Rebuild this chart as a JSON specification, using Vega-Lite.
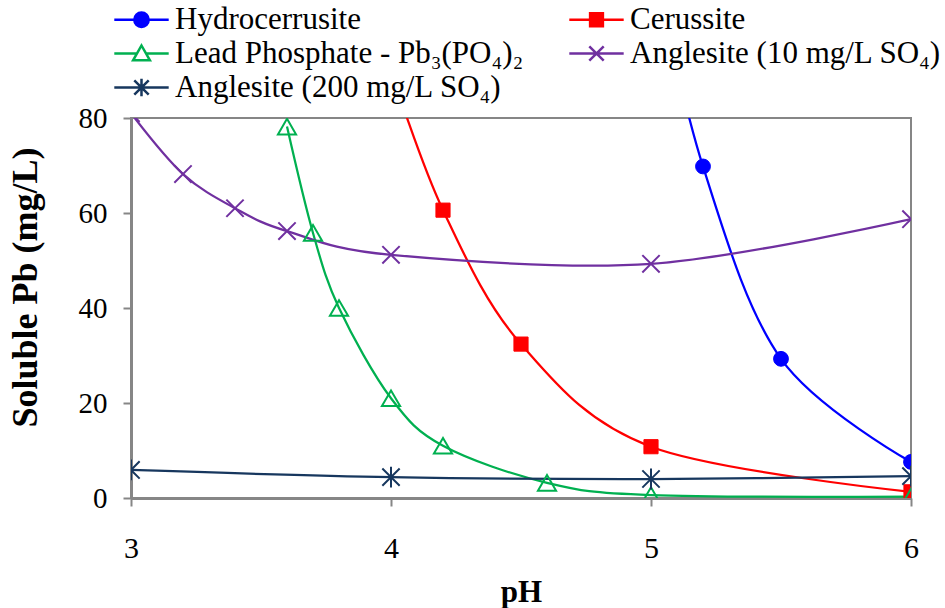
{
  "$schema": "https://vega.github.io/schema/vega-lite/v6.json",
  "width": 780,
  "height": 380,
  "autosize": "none",
  "padding": {"left": 131, "top": 118, "right": 34, "bottom": 110},
  "background": "white",
  "config": {
    "view": {"stroke": "#868686", "strokeWidth": 2},
    "font": "Liberation Serif",
    "axis": {"labelFont": "Liberation Serif", "titleFont": "Liberation Serif"},
    "legend": {"labelFont": "Liberation Serif"}
  },
  "data": {
    "values": [
      {"series": "Hydrocerrusite", "pH": 5.0, "pb": 115},
      {"series": "Hydrocerrusite", "pH": 5.2, "pb": 69.8},
      {"series": "Hydrocerrusite", "pH": 5.5, "pb": 29.3},
      {"series": "Hydrocerrusite", "pH": 6.0, "pb": 7.6},
      {"series": "Cerussite", "pH": 4.0, "pb": 90},
      {"series": "Cerussite", "pH": 4.2, "pb": 60.6},
      {"series": "Cerussite", "pH": 4.5, "pb": 32.4},
      {"series": "Cerussite", "pH": 5.0, "pb": 10.8},
      {"series": "Cerussite", "pH": 6.0, "pb": 1.3},
      {"series": "Lead Phosphate - Pb₃(PO₄)₂", "pH": 3.6, "pb": 78.2},
      {"series": "Lead Phosphate - Pb₃(PO₄)₂", "pH": 3.7, "pb": 55.8},
      {"series": "Lead Phosphate - Pb₃(PO₄)₂", "pH": 3.8, "pb": 40.0},
      {"series": "Lead Phosphate - Pb₃(PO₄)₂", "pH": 4.0, "pb": 21.0},
      {"series": "Lead Phosphate - Pb₃(PO₄)₂", "pH": 4.2, "pb": 11.0},
      {"series": "Lead Phosphate - Pb₃(PO₄)₂", "pH": 4.6, "pb": 3.2},
      {"series": "Lead Phosphate - Pb₃(PO₄)₂", "pH": 5.0, "pb": 0.6},
      {"series": "Lead Phosphate - Pb₃(PO₄)₂", "pH": 6.0, "pb": 0.3},
      {"series": "Anglesite (10 mg/L SO₄)", "pH": 3.0, "pb": 81},
      {"series": "Anglesite (10 mg/L SO₄)", "pH": 3.2, "pb": 68.2},
      {"series": "Anglesite (10 mg/L SO₄)", "pH": 3.4, "pb": 61.0},
      {"series": "Anglesite (10 mg/L SO₄)", "pH": 3.6, "pb": 56.2},
      {"series": "Anglesite (10 mg/L SO₄)", "pH": 4.0, "pb": 51.2},
      {"series": "Anglesite (10 mg/L SO₄)", "pH": 5.0, "pb": 49.3},
      {"series": "Anglesite (10 mg/L SO₄)", "pH": 6.0, "pb": 58.7},
      {"series": "Anglesite (200 mg/L SO₄)", "pH": 3.0, "pb": 5.9},
      {"series": "Anglesite (200 mg/L SO₄)", "pH": 4.0, "pb": 4.4},
      {"series": "Anglesite (200 mg/L SO₄)", "pH": 5.0, "pb": 4.0},
      {"series": "Anglesite (200 mg/L SO₄)", "pH": 6.0, "pb": 4.6}
    ]
  },
  "encoding": {
    "x": {
      "field": "pH",
      "type": "quantitative",
      "scale": {"domain": [3, 6], "nice": false, "zero": false},
      "axis": {
        "values": [3, 4, 5, 6],
        "format": "d",
        "title": "pH",
        "grid": false,
        "domainColor": "#868686",
        "domainWidth": 3,
        "tickColor": "#868686",
        "tickWidth": 2,
        "tickSize": 8,
        "labelFont": "Liberation Serif",
        "labelFontSize": 30,
        "labelColor": "black",
        "labelPadding": 51,
        "labelBaseline": "alphabetic",
        "labelFlush": false,
        "labelOverlap": false,
        "titleFont": "Liberation Serif",
        "titleFontSize": 31,
        "titleFontWeight": "bold",
        "titleColor": "black",
        "titleY": 103,
        "titleBaseline": "alphabetic"
      }
    },
    "y": {
      "field": "pb",
      "type": "quantitative",
      "scale": {"domain": [0, 80], "nice": false},
      "axis": {
        "values": [0, 20, 40, 60, 80],
        "title": "Soluble Pb (mg/L)",
        "grid": false,
        "domainColor": "#868686",
        "domainWidth": 3,
        "tickColor": "#868686",
        "tickWidth": 2,
        "tickSize": 8,
        "labelFont": "Liberation Serif",
        "labelFontSize": 29,
        "labelColor": "black",
        "labelPadding": 16,
        "labelBaseline": "middle",
        "labelFlush": false,
        "labelOverlap": false,
        "titleFont": "Liberation Serif",
        "titleFontSize": 36,
        "titleFontWeight": "bold",
        "titleColor": "black",
        "titleX": -106,
        "titleY": 169,
        "titleBaseline": "middle"
      }
    }
  },
  "layer": [
    {
      "mark": {"type": "line", "interpolate": "cardinal", "strokeWidth": 2.25, "clip": true},
      "encoding": {
        "color": {
          "field": "series",
          "type": "nominal",
          "scale": {
            "domain": ["Hydrocerrusite", "Cerussite", "Lead Phosphate - Pb₃(PO₄)₂", "Anglesite (10 mg/L SO₄)", "Anglesite (200 mg/L SO₄)"],
            "range": ["#0000FF", "#FF0000", "#00B050", "#7030A0", "#17375E"]
          },
          "legend": {
            "title": null,
            "orient": "none",
            "direction": "horizontal",
            "legendX": -18,
            "legendY": -114,
            "columns": 2,
            "columnPadding": 40,
            "rowPadding": 2,
            "padding": 0,
            "labelFont": "Liberation Serif",
            "labelFontSize": 31,
            "labelColor": "black",
            "labelLimit": 800,
            "labelOffset": 18,
            "symbolOffset": 13,
            "symbolSize": 256,
            "symbolStrokeWidth": 2.5,
            "encode": {
              "symbols": {
                "update": {
                  "shape": {"signal": "['M-3.4,0H3.4M0.9,0A0.9,0.9 0 1,1 -0.9,0A0.9,0.9 0 1,1 0.9,0Z', 'M-3.4,0H3.4M-0.8,-0.8H0.8V0.8H-0.8Z', 'M-3.4,0H-0.6M0.6,0H3.4M0,-1L1.05,0.85H-1.05Z', 'M-3.4,0H3.4M-0.9,-0.9L0.9,0.9M-0.9,0.9L0.9,-0.9', 'M-3.4,0H3.4M-0.9,-0.9L0.9,0.9M-0.9,0.9L0.9,-0.9M0,-1.1V1.1'][datum.index]"},
                  "fill": {"signal": "datum.index < 2 ? scale('color', datum.value) : 'transparent'"},
                  "strokeWidth": {"value": 2.5},
                  "size": {"value": 256},
                  "opacity": {"value": 1}
                }
              }
            }
          }
        }
      }
    },
    {
      "transform": [{"filter": "datum.series == 'Hydrocerrusite'"}],
      "mark": {"type": "point", "clip": true, "shape": "circle", "filled": true, "color": "#0000FF", "stroke": "#0000FF", "strokeWidth": 1, "size": 220, "opacity": 1}
    },
    {
      "transform": [{"filter": "datum.series == 'Cerussite'"}],
      "mark": {"type": "point", "clip": true, "shape": "square", "filled": true, "color": "#FF0000", "stroke": "#FF0000", "strokeWidth": 1, "size": 200, "opacity": 1}
    },
    {
      "transform": [{"filter": "datum.series == 'Lead Phosphate - Pb₃(PO₄)₂'"}],
      "mark": {"type": "point", "clip": true, "shape": "triangle-up", "filled": false, "color": "#00B050", "strokeWidth": 2, "size": 330, "opacity": 1}
    },
    {
      "transform": [{"filter": "datum.series == 'Anglesite (10 mg/L SO₄)'"}],
      "mark": {"type": "point", "clip": true, "shape": "M-1,-1L1,1M-1,1L1,-1", "filled": false, "color": "#7030A0", "strokeWidth": 2, "size": 300, "opacity": 1}
    },
    {
      "transform": [{"filter": "datum.series == 'Anglesite (200 mg/L SO₄)'"}],
      "mark": {"type": "point", "clip": true, "shape": "M-1,-1L1,1M-1,1L1,-1M0,-1.2V1.2", "filled": false, "color": "#17375E", "strokeWidth": 2, "size": 300, "opacity": 1}
    }
  ]
}
